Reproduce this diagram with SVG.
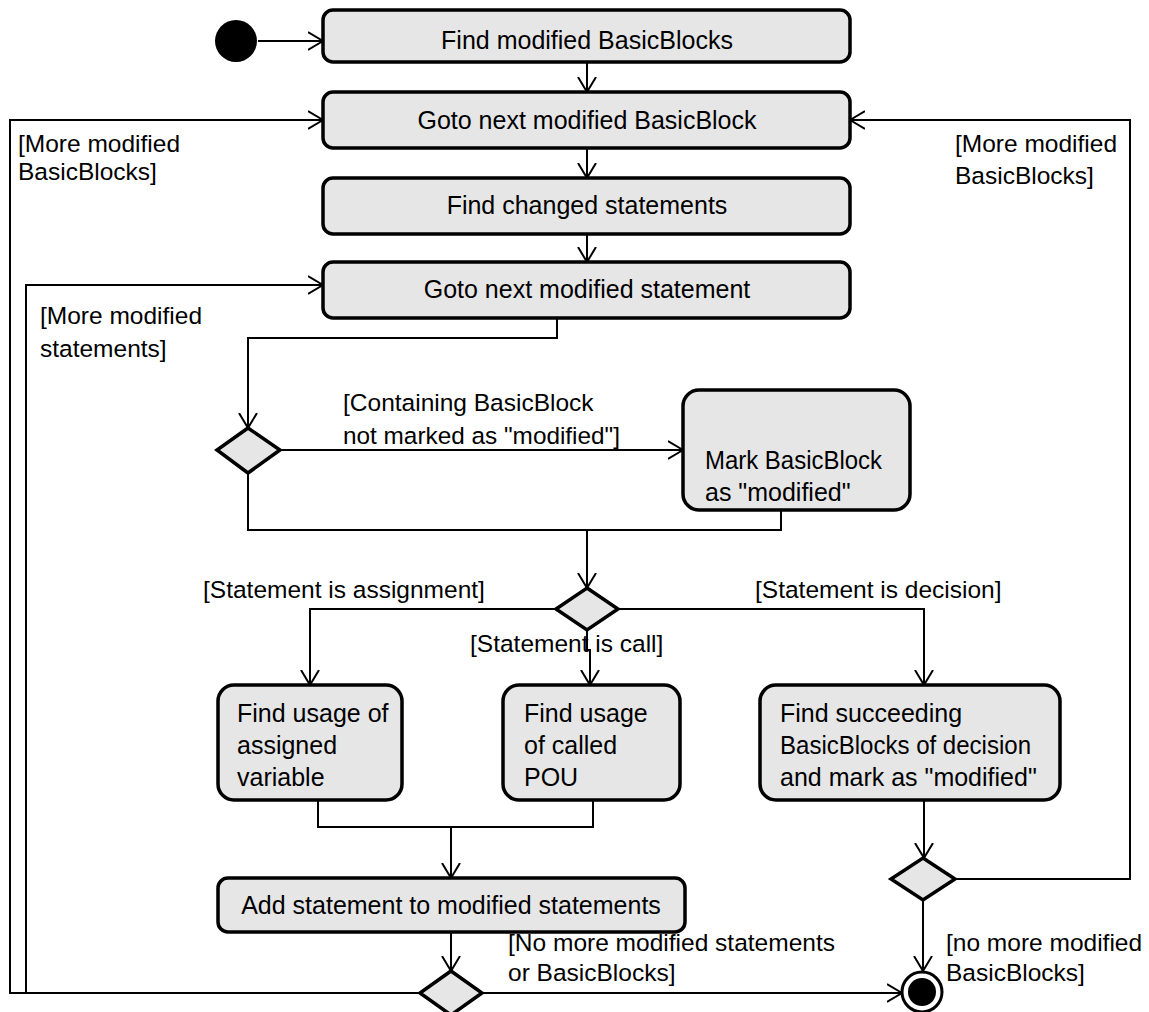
<svg xmlns="http://www.w3.org/2000/svg" width="1149" height="1012" viewBox="0 0 1149 1012">
  <defs>
    <marker id="open" viewBox="0 0 16 20" refX="15" refY="10" markerWidth="16" markerHeight="20" markerUnits="userSpaceOnUse" orient="auto">
      <path d="M0,1 L15,10 L0,19" fill="none" stroke="#000" stroke-width="2"/>
    </marker>
  </defs>
  <style>
    .box { fill: #e6e6e6; stroke: #000; stroke-width: 3.5; }
    .dec { fill: #e6e6e6; stroke: #000; stroke-width: 3.5; stroke-linejoin: miter; }
    .edge { fill: none; stroke: #000; stroke-width: 2; }
    .arr { marker-end: url(#open); }
    text { font-family: "Liberation Sans", Arial, sans-serif; font-size: 25px; fill: #000; }
    .g { font-size: 24.5px; }
    .c { text-anchor: middle; }
  </style>
  <rect width="1149" height="1012" fill="#fff"/>

  <!-- connectors -->
  <g id="edges">
    <path class="edge arr" d="M258,41 H323"/>
    <path class="edge arr" d="M587,62 V92"/>
    <path class="edge arr" d="M587,148 V178"/>
    <path class="edge arr" d="M587,234 V262"/>
    <path class="edge arr" d="M557,318 V338 H248 V428"/>
    <path class="edge arr" d="M280,450 H683"/>
    <path class="edge" d="M248,473 V530 H781 V510"/>
    <path class="edge arr" d="M587,530 V588"/>
    <path class="edge arr" d="M556,609 H310 V685"/>
    <path class="edge arr" d="M618,609 H924 V685"/>
    <path class="edge arr" d="M587,630 V650 H590 V685"/>
    <path class="edge" d="M318,800 V827 H593 V800"/>
    <path class="edge arr" d="M451,827 V878"/>
    <path class="edge arr" d="M451,932 V971"/>
    <path class="edge arr" d="M924,800 V858"/>
    <path class="edge arr" d="M955,879 H1130 V120 H850"/>
    <path class="edge arr" d="M923,900 V971"/>
    <path class="edge arr" d="M482,993 H902"/>
    <path class="edge arr" d="M420,993 H10 V120 H323"/>
    <path class="edge arr" d="M26,993 V285 H323"/>
  </g>

  <!-- guard labels -->
  <g id="guards" class="g">
    <text class="g" x="18" y="152">[More modified</text>
    <text class="g" x="18" y="180">BasicBlocks]</text>
    <text class="g" x="955" y="152">[More modified</text>
    <text class="g" x="955" y="184">BasicBlocks]</text>
    <text class="g" x="40" y="324">[More modified</text>
    <text class="g" x="40" y="357">statements]</text>
    <text class="g" x="343" y="411">[Containing BasicBlock</text>
    <text class="g" x="343" y="444" textLength="277" lengthAdjust="spacingAndGlyphs">not marked as "modified"]</text>
    <text class="g" x="203" y="598">[Statement is assignment]</text>
    <text class="g" x="755" y="598">[Statement is decision]</text>
    <text class="g" x="470" y="652">[Statement is call]</text>
    <text class="g" x="508" y="951" textLength="327" lengthAdjust="spacingAndGlyphs">[No more modified statements</text>
    <text class="g" x="508" y="981">or BasicBlocks]</text>
    <text class="g" x="946" y="951">[no more modified</text>
    <text class="g" x="946" y="981">BasicBlocks]</text>
  </g>

  <g id="start">
    <circle cx="236" cy="41" r="21" fill="#000"/>
  </g>

  <g id="find-modified">
    <rect class="box" x="323" y="10" width="527" height="52" rx="10"/>
    <text class="c" x="587" y="49">Find modified BasicBlocks</text>
  </g>

  <g id="goto-block">
    <rect class="box" x="323" y="92" width="527" height="56" rx="10"/>
    <text class="c" x="587" y="129">Goto next modified BasicBlock</text>
  </g>

  <g id="find-changed">
    <rect class="box" x="323" y="178" width="527" height="56" rx="10"/>
    <text class="c" x="587" y="214">Find changed statements</text>
  </g>

  <g id="goto-statement">
    <rect class="box" x="323" y="262" width="527" height="56" rx="10"/>
    <text class="c" x="587" y="298">Goto next modified statement</text>
  </g>

  <g id="decision-marked">
    <polygon class="dec" points="248,428 280,450 248,473 217,450"/>
  </g>

  <g id="mark-block">
    <rect class="box" x="683" y="390" width="227" height="120" rx="16"/>
    <text x="705" y="469" textLength="177" lengthAdjust="spacingAndGlyphs">Mark BasicBlock</text>
    <text x="705" y="501">as "modified"</text>
  </g>

  <g id="decision-kind">
    <polygon class="dec" points="587,588 618,609 587,630 556,609"/>
  </g>

  <g id="usage-variable">
    <rect class="box" x="218" y="685" width="184" height="115" rx="16"/>
    <text x="237" y="722">Find usage of</text>
    <text x="237" y="754">assigned</text>
    <text x="237" y="786">variable</text>
  </g>

  <g id="usage-pou">
    <rect class="box" x="503" y="685" width="177" height="115" rx="16"/>
    <text x="524" y="722">Find usage</text>
    <text x="524" y="754">of called</text>
    <text x="524" y="786">POU</text>
  </g>

  <g id="succeeding">
    <rect class="box" x="760" y="685" width="300" height="115" rx="16"/>
    <text x="780" y="722">Find succeeding</text>
    <text x="780" y="754" textLength="251" lengthAdjust="spacingAndGlyphs">BasicBlocks of decision</text>
    <text x="780" y="786">and mark as "modified"</text>
  </g>

  <g id="add-statement">
    <rect class="box" x="218" y="878" width="467" height="54" rx="10"/>
    <text class="c" x="451" y="914">Add statement to modified statements</text>
  </g>

  <g id="decision-more-blocks">
    <polygon class="dec" points="923,858 955,879 923,900 891,879"/>
  </g>

  <g id="decision-more-statements">
    <polygon class="dec" points="451,971 482,993 451,1015 420,993"/>
  </g>

  <g id="end">
    <circle cx="922" cy="992" r="20" fill="#fff" stroke="#000" stroke-width="3"/>
    <circle cx="922" cy="992" r="14" fill="#000"/>
  </g>
</svg>
